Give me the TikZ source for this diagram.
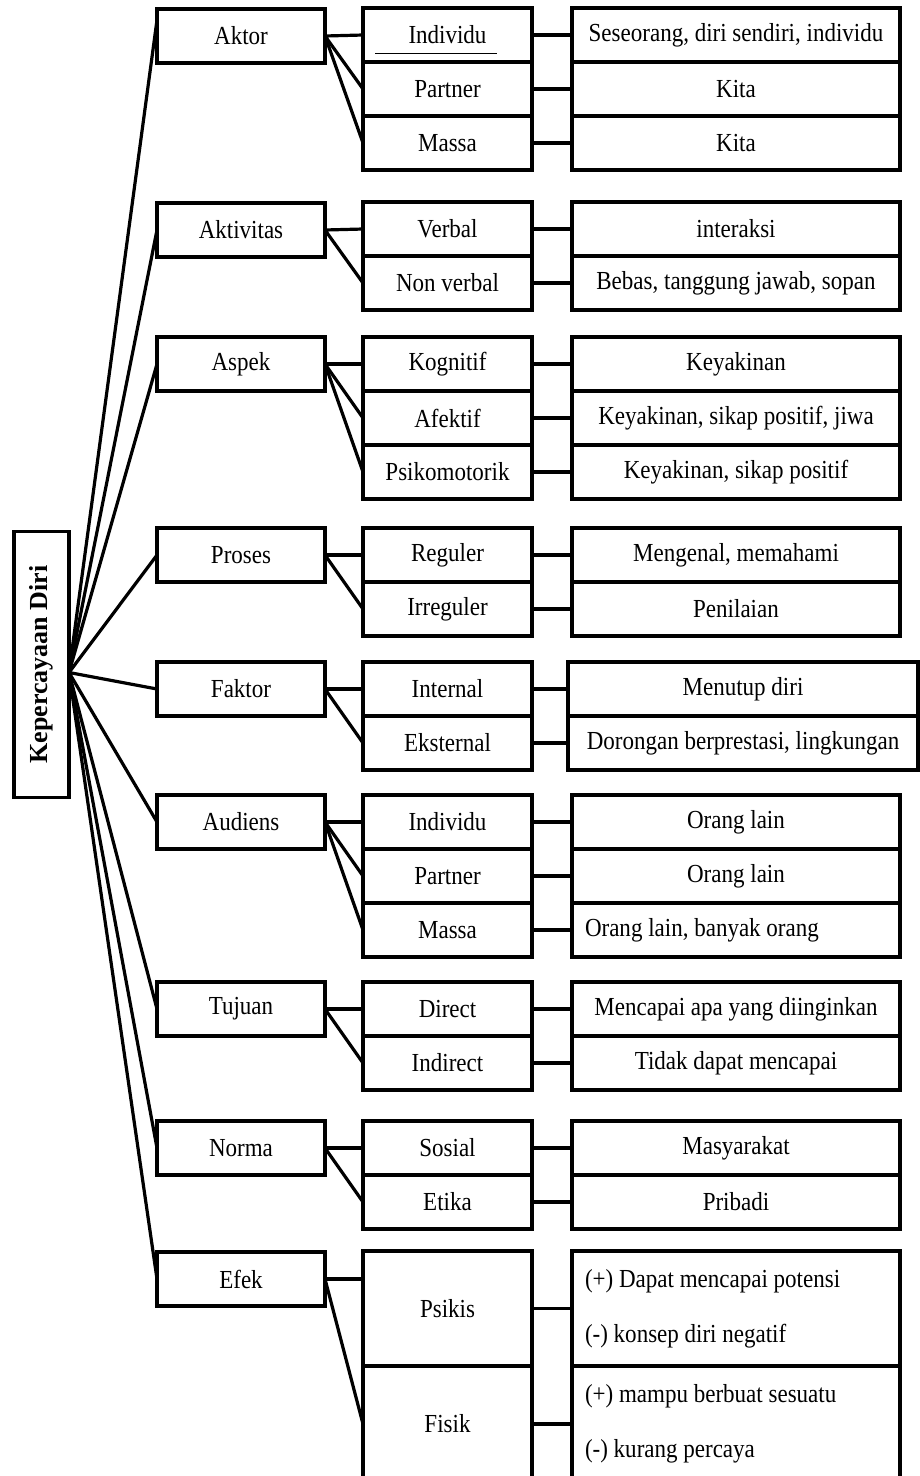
\documentclass[tikz,border=0pt]{standalone}
\usepackage{graphicx}
\usepackage{fontspec}
\setmainfont{Liberation Serif}[FakeStretch=0.885]
\newfontfamily\akarfont{Liberation Serif}
\usetikzlibrary{positioning}

\begin{document}
\begin{tikzpicture}[x=1pt,y=-1pt,
    kotak/.style={draw,line width=3.2pt,inner sep=0pt,outer sep=0pt,font=\fontsize{26}{31}\selectfont},
    satu/.style={kotak,minimum width=168pt,minimum height=54pt},
    dua/.style={kotak,minimum width=169pt,minimum height=54pt},
    tiga/.style={kotak,minimum width=328pt,minimum height=54pt},
    lebar/.style={kotak,minimum width=350pt,minimum height=54pt},
    kiri/.style={tiga,text width=302pt,inner xsep=13pt,align=left,
      execute at begin node={\spaceskip=0pt\xspaceskip=0pt\relax}},
    garis/.style={line width=3.2pt}]
\useasboundingbox (0,0) rectangle (920,1476);

% akar
\node[kotak,minimum width=55pt,minimum height=266pt,font=\akarfont\fontsize{26}{31}\selectfont\bfseries] (akar) at (41.5,664.5) {\rotatebox{90}{Kepercayaan Diri}};
\coordinate (pusat) at ([yshift=-8pt]akar.east);

% tingkat satu
\foreach \n/\y/\t in {aktor/36/Aktor,aktivitas/230/Aktivitas,aspek/364/Aspek,proses/555/Proses,faktor/689/Faktor,audiens/822/Audiens,tujuan/1009/Tujuan,norma/1148/Norma,efek/1279/Efek}
  \node[satu] (\n) at (241,\y) {\t};

% tingkat dua
\node[dua] (ind1) at (447.5,35) {Individu};
\node[dua,below=0pt of ind1] (par1) {Partner};
\node[dua,below=0pt of par1] (mas1) {Massa};
\node[dua] (verbal) at (447.5,229) {Verbal};
\node[dua,below=0pt of verbal] (nonverbal) {Non verbal};
\node[dua] (kog) at (447.5,364) {Kognitif};
\node[dua,below=0pt of kog] (afe) {Afektif};
\node[dua,below=0pt of afe] (psi) {Psikomotorik};
\node[dua] (reg) at (447.5,555) {Reguler};
\node[dua,below=0pt of reg] (irr) {Irreguler};
\node[dua] (int) at (447.5,689) {Internal};
\node[dua,below=0pt of int] (eks) {Eksternal};
\node[dua] (ind2) at (447.5,822) {Individu};
\node[dua,below=0pt of ind2] (par2) {Partner};
\node[dua,below=0pt of par2] (mas2) {Massa};
\node[dua] (dir) at (447.5,1009) {Direct};
\node[dua,below=0pt of dir] (indir) {Indirect};
\node[dua] (sos) at (447.5,1148) {Sosial};
\node[dua,below=0pt of sos] (eti) {Etika};
\node[dua,minimum height=115pt] (psikis) at (447.5,1308.5) {Psikis};
\node[dua,minimum height=116pt,below=0pt of psikis] (fisik) {Fisik};

\draw[line width=0.8pt] ([shift={(12,-9)}]ind1.south west) -- ([shift={(-35,-9)}]ind1.south east);

% tingkat tiga
\node[tiga,right=40pt of ind1] (kind1) {Seseorang, diri sendiri, individu};
\node[tiga,right=40pt of par1] (kpar1) {Kita};
\node[tiga,right=40pt of mas1] (kmas1) {Kita};
\node[tiga,right=40pt of verbal] (kverbal) {interaksi};
\node[tiga,right=40pt of nonverbal] (knonverbal) {Bebas, tanggung jawab, sopan};
\node[tiga,right=40pt of kog] (kkog) {Keyakinan};
\node[tiga,right=40pt of afe] (kafe) {Keyakinan, sikap positif, jiwa};
\node[tiga,right=40pt of psi] (kpsi) {Keyakinan, sikap positif};
\node[tiga,right=40pt of reg] (kreg) {Mengenal, memahami};
\node[tiga,right=40pt of irr] (kirr) {Penilaian};
\node[lebar,right=36pt of int] (kint) {Menutup diri};
\node[lebar,right=36pt of eks] (keks) {Dorongan berprestasi, lingkungan};
\node[tiga,right=40pt of ind2] (kind2) {Orang lain};
\node[tiga,right=40pt of par2] (kpar2) {Orang lain};
\node[kiri,right=40pt of mas2] (kmas2) {Orang lain, banyak orang};
\node[tiga,right=40pt of dir] (kdir) {Mencapai apa yang diinginkan};
\node[tiga,right=40pt of indir] (kindir) {Tidak dapat mencapai};
\node[tiga,right=40pt of sos] (ksos) {Masyarakat};
\node[tiga,right=40pt of eti] (keti) {Pribadi};
\node[kiri,minimum height=115pt,right=40pt of psikis] (kpsikis) {(+) Dapat mencapai potensi\\[24pt](-) konsep diri negatif};
\node[kiri,minimum height=116pt,right=40pt of fisik] (kfisik) {(+) mampu berbuat sesuatu\\[24pt](-) kurang percaya};

% garis
\draw[garis] (pusat) -- ([yshift=16pt]aktor.west);
\foreach \n in {aktivitas,aspek,proses,faktor,audiens,tujuan,norma,efek}
  \draw[garis] (pusat) -- (\n.west);
\foreach \a/\b in {aktor/ind1,aktor/par1,aktor/mas1,aktivitas/verbal,aktivitas/nonverbal,aspek/kog,aspek/afe,aspek/psi,proses/reg,proses/irr,faktor/int,faktor/eks,audiens/ind2,audiens/par2,audiens/mas2,tujuan/dir,tujuan/indir,norma/sos,norma/eti,efek/fisik}
  \draw[garis] (\a.east) -- (\b.west);
\draw[garis] (efek.east) -- (efek.east -| psikis.west);
\foreach \b in {ind1,par1,mas1,verbal,nonverbal,kog,afe,psi,reg,irr,int,eks,ind2,par2,mas2,dir,indir,sos,eti,psikis,fisik}
  \draw[garis] (\b.east) -- (k\b.west);
\end{tikzpicture}
\end{document}
